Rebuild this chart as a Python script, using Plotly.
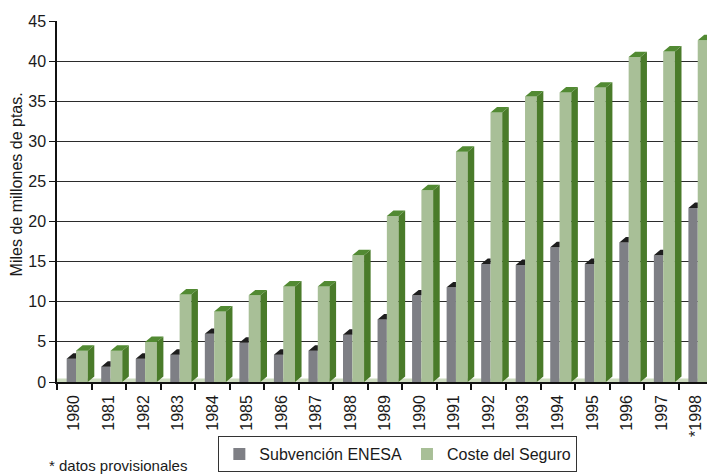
import plotly.graph_objects as go

years = ["1980", "1981", "1982", "1983", "1984", "1985", "1986", "1987", "1988", "1989",
         "1990", "1991", "1992", "1993", "1994", "1995", "1996", "1997", "*1998"]
subvencion = [2.9, 1.9, 2.9, 3.4, 6.0, 4.9, 3.4, 3.9, 5.9, 7.8,
              10.8, 11.8, 14.7, 14.6, 16.8, 14.7, 17.4, 15.8, 21.7]
coste = [3.9, 3.9, 5.0, 10.9, 8.8, 10.8, 11.9, 11.9, 15.8, 20.7,
         23.9, 28.7, 33.6, 35.6, 36.1, 36.7, 40.5, 41.2, 42.6]

GRAY = "#7e7f85"
GRAY_TOP = "#1e1e1e"
GREEN = "#a8bf97"
GREEN_SIDE = "#4a7b2a"
GREEN_TOP = "#528a33"
FLOOR = "#cddcbf"
FONT = "Liberation Sans, Arial, sans-serif"

# geometry in x-units (category spacing = 1)
g0, g1 = -0.22, 0.05      # gray front face
c0, c1 = 0.05, 0.39       # green front face
DX, DY = 0.19, 0.68       # 3D depth offsets (x units, y units)

xs = list(range(len(years)))

fig = go.Figure()
fig.add_trace(go.Bar(x=xs, y=subvencion, width=g1 - g0, offset=g0, name="Subvención ENESA",
                     marker=dict(color=GRAY, line=dict(width=0))))
fig.add_trace(go.Bar(x=xs, y=coste, width=c1 - c0, offset=c0, name="Coste del Seguro",
                     marker=dict(color=GREEN, line=dict(width=0))))

def polys(build):
    px, py = [], []
    for i in xs:
        pts = build(i)
        for (a, b) in pts:
            px.append(a); py.append(b)
        px.append(pts[0][0]); py.append(pts[0][1])
        px.append(None); py.append(None)
    return px, py

# green side faces
sx, sy = polys(lambda i: [(i + c1, 0), (i + c1 + DX, DY), (i + c1 + DX, coste[i] + DY), (i + c1, coste[i])])
fig.add_trace(go.Scatter(x=sx, y=sy, mode="lines", fill="toself", fillcolor=GREEN_SIDE,
                         line=dict(width=0, color=GREEN_SIDE), showlegend=False, hoverinfo="skip"))
# green tops
tx, ty = polys(lambda i: [(i + c0, coste[i]), (i + c0 + DX, coste[i] + DY), (i + c1 + DX, coste[i] + DY), (i + c1, coste[i])])
fig.add_trace(go.Scatter(x=tx, y=ty, mode="lines", fill="toself", fillcolor=GREEN_TOP,
                         line=dict(width=0, color=GREEN_TOP), showlegend=False, hoverinfo="skip"))
# gray tops (partly hidden behind green bar)
gx, gy = polys(lambda i: [(i + g0, subvencion[i]), (i + g0 + DX, subvencion[i] + DY), (i + g1, subvencion[i] + DY), (i + g1, subvencion[i])])
fig.add_trace(go.Scatter(x=gx, y=gy, mode="lines", fill="toself", fillcolor=GRAY_TOP,
                         line=dict(width=0, color=GRAY_TOP), showlegend=False, hoverinfo="skip"))

boundaries = [i - 0.5 for i in range(len(years))]

# page body has an 8px default margin, so the figure is sized to fit inside the window
fig.update_layout(
    width=707, height=466,
    margin=dict(l=49, r=0, t=13, b=92, autoexpand=False),
    paper_bgcolor="white", plot_bgcolor="white",
    barmode="overlay",
    font=dict(family=FONT, size=15, color="#1a1a1a"),
    xaxis=dict(range=[-0.5, 18.55], tickmode="array", tickvals=xs, ticktext=years,
               tickangle=-90, ticks="outside", ticklen=5, tickcolor="rgba(0,0,0,0)",
               tickfont=dict(size=16), showgrid=False, zeroline=False, automargin=False,
               showline=True, linecolor="#111", linewidth=1.5,
               minor=dict(tickmode="array", tickvals=boundaries, ticks="outside",
                          ticklen=6, tickcolor="#111", tickwidth=1.5, showgrid=False)),
    yaxis=dict(range=[0, 45], dtick=5, tickfont=dict(size=16), showgrid=True,
               gridcolor="#2b2b2b", gridwidth=1.4, zeroline=False, automargin=False,
               showline=True, linecolor="#111", linewidth=1.5,
               ticks="outside", ticklen=6, tickcolor="#111"),
    legend=dict(orientation="h", x=0.518, xanchor="center", y=-0.15, yanchor="top",
                bordercolor="#333", borderwidth=1, font=dict(size=16),
                itemsizing="constant"),
    shapes=[dict(type="path", xref="x", yref="y", layer="between",
                 path="M -0.5 0 L 18.55 0 L 18.55 0.45 L -0.5 0.45 Z",
                 fillcolor=FLOOR, line=dict(width=0))],
    annotations=[
        dict(text="Miles de millones de ptas.", textangle=-90, xref="paper", yref="paper",
             x=-0.061, y=0.547, xanchor="center", yanchor="middle", showarrow=False,
             font=dict(size=16)),
        dict(text="* datos provisionales", xref="paper", yref="paper",
             x=-0.015, y=-0.232, xanchor="left", yanchor="middle", showarrow=False,
             font=dict(size=15)),
    ],
)

fig.write_html("out.html")
